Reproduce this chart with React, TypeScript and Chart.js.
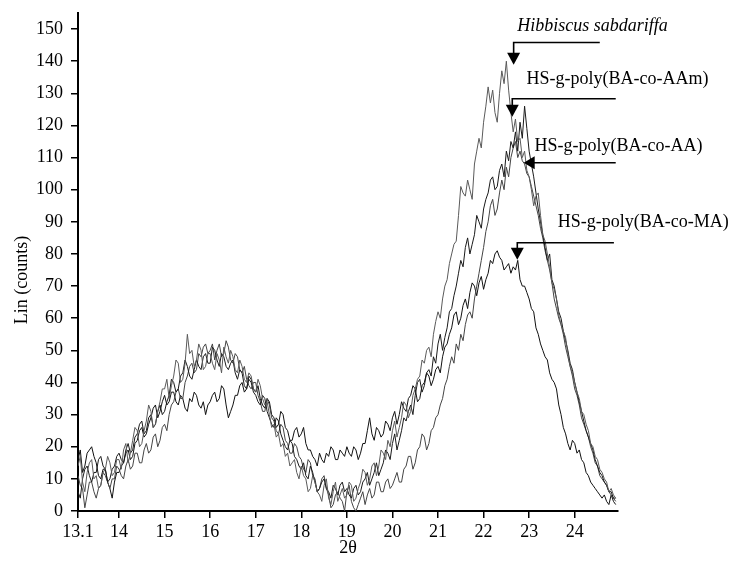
import React, { useEffect, useRef } from 'react';
import { Chart, registerables } from 'chart.js';

Chart.register(...registerables);

// scan positions (2θ) : start + index * step
const SCAN_START = 13.1;
const SCAN_STEP = 0.05;

const X_TICKS = [13.1, 14, 15, 16, 17, 18, 19, 20, 21, 22, 23, 24];
const Y_TICKS = [0, 10, 20, 30, 40, 50, 60, 70, 80, 90, 100, 110, 120, 130, 140, 150];

const SERIES_NAMES = ['Hibbiscus sabdariffa', 'HS-g-poly(BA-co-AAm)', 'HS-g-poly(BA-co-AA)', 'HS-g-poly(BA-co-MA)'];

// Lin (counts) for 2θ = 13.10 ... 24.90 (step 0.05)
const HS = [
  14, 17, 9, 6, 12, 15, 16, 10, 11, 7, 8, 12, 13, 17, 15, 11, 12, 16,
  16, 13, 19, 21, 15, 18, 22, 26, 25, 20, 21, 25, 28, 33, 31, 26, 27, 31, 34, 38,
  38, 41, 35, 39, 42, 47, 46, 40, 41, 46, 55, 49, 50, 45, 47, 52, 50, 44, 45, 49,
  49, 46, 44, 49, 47, 43, 51, 48, 46, 50, 48, 44, 43, 47, 45, 41, 40, 43, 42, 38,
  37, 41, 39, 35, 33, 34, 30, 26, 27, 23, 24, 20, 21, 17, 18, 14, 15, 16, 12, 10,
  14, 11, 10, 6, 7, 11, 9, 6, 5, 3, 8, 10, 4, 2, 6, 9, 3, 5, 7, 4,
  5, 9, 8, 3, 4, 7, 9, 13, 12, 8, 10, 14, 15, 11, 14, 19, 18, 16, 22, 20,
  25, 28, 23, 26, 29, 34, 33, 29, 31, 36, 38, 41, 42, 47, 46, 50, 51, 48, 55, 59,
  62, 60, 66, 70, 72, 77, 80, 83, 84, 92, 101, 99, 98, 103, 100, 97, 108, 112, 116, 113,
  121, 126, 132, 127, 131, 124, 121, 130, 137, 133, 140, 131, 124, 118, 122, 115, 116, 110, 112, 106,
  104, 100, 95, 98, 99, 92, 86, 84, 80, 76, 71, 69, 66, 61, 58, 56, 54, 49, 45, 43,
  40, 37, 35, 31, 30, 27, 25, 21, 20, 17, 16, 13, 12, 10, 9, 6, 7, 5, 4,
];

const AAM = [
  6, 4, 10, 13, 14, 11, 9, 12, 12, 16, 17, 14, 13, 9, 10, 13, 14, 17,
  18, 16, 15, 19, 21, 18, 19, 23, 24, 27, 28, 24, 25, 29, 30, 26, 27, 31, 33, 30,
  31, 34, 36, 41, 40, 37, 38, 42, 43, 47, 45, 42, 41, 44, 47, 45, 44, 48, 49, 46,
  46, 51, 50, 47, 45, 49, 48, 45, 44, 46, 47, 43, 41, 44, 43, 39, 38, 41, 40, 37,
  36, 34, 33, 36, 35, 31, 29, 27, 26, 29, 28, 24, 22, 20, 19, 22, 21, 17, 16, 14,
  13, 15, 11, 10, 14, 12, 9, 6, 7, 9, 10, 7, 6, 4, 8, 7, 5, 8, 9, 6,
  7, 5, 4, 7, 8, 5, 6, 9, 10, 12, 8, 10, 12, 15, 11, 13, 15, 19, 18, 16,
  21, 24, 19, 22, 25, 29, 28, 31, 33, 30, 36, 40, 41, 37, 39, 43, 44, 42, 48, 46,
  52, 55, 50, 54, 57, 62, 63, 67, 70, 74, 78, 76, 82, 85, 80, 83, 86, 92, 90, 88,
  94, 97, 99, 103, 104, 100, 101, 106, 108, 104, 112, 109, 115, 113, 118, 112, 121, 116, 126, 119,
  112, 108, 104, 99, 94, 90, 86, 82, 78, 80, 72, 70, 66, 62, 60, 56, 53, 50, 46, 44,
  40, 37, 34, 31, 28, 25, 23, 21, 19, 16, 14, 12, 11, 9, 8, 6, 6, 4, 4,
];

const AA = [
  11, 8, 7, 1, 5, 9, 9, 6, 4, 7, 8, 12, 11, 9, 7, 10, 10, 14,
  13, 11, 10, 14, 16, 13, 14, 18, 18, 15, 15, 19, 21, 18, 19, 23, 24, 20, 22, 26,
  27, 25, 30, 33, 34, 37, 38, 35, 35, 40, 42, 45, 46, 43, 44, 49, 48, 51, 52, 49,
  50, 52, 47, 50, 52, 48, 49, 53, 51, 47, 46, 49, 48, 44, 43, 45, 41, 39, 38, 40,
  40, 36, 34, 31, 31, 35, 33, 29, 28, 25, 24, 27, 26, 22, 21, 18, 18, 21, 20, 17,
  16, 13, 12, 16, 15, 11, 10, 6, 7, 10, 11, 7, 5, 1, 2, 5, 6, 4, 3, 0,
  6, 8, 3, 1, 0, 2, 4, 6, 2, 5, 7, 4, 5, 9, 9, 6, 6, 9, 10, 7,
  8, 10, 12, 9, 9, 13, 14, 17, 17, 13, 15, 19, 20, 24, 23, 19, 21, 25, 26, 29,
  30, 33, 35, 39, 41, 45, 48, 46, 52, 50, 55, 53, 58, 61, 62, 60, 66, 70, 74, 78,
  82, 87, 90, 95, 97, 92, 94, 99, 103, 100, 107, 104, 110, 113, 115, 110, 112, 109, 108, 105,
  104, 101, 98, 95, 92, 88, 85, 81, 78, 75, 71, 66, 63, 60, 58, 55, 51, 48, 45, 42,
  38, 36, 33, 29, 27, 25, 23, 20, 18, 15, 14, 11, 10, 9, 8, 6, 5, 4, 3,
];

const MA = [
  16, 19, 12, 14, 18, 19, 20, 17, 15, 11, 10, 13, 13, 9, 7, 4, 9, 12,
  12, 14, 15, 18, 19, 16, 17, 21, 22, 25, 26, 23, 24, 27, 29, 32, 33, 29, 31, 34,
  36, 33, 34, 37, 37, 34, 33, 36, 35, 32, 31, 35, 34, 37, 36, 33, 32, 34, 30, 33,
  34, 36, 37, 34, 35, 39, 38, 33, 29, 31, 33, 36, 36, 39, 40, 37, 38, 42, 41, 38,
  37, 39, 35, 33, 32, 35, 34, 30, 29, 26, 27, 31, 30, 26, 25, 22, 22, 25, 26, 23,
  24, 26, 21, 19, 19, 17, 16, 14, 18, 16, 15, 18, 17, 20, 19, 16, 16, 19, 18, 17,
  20, 18, 17, 20, 19, 16, 18, 21, 21, 25, 29, 24, 22, 26, 25, 23, 24, 28, 27, 25,
  29, 31, 27, 30, 34, 32, 31, 35, 36, 39, 38, 34, 35, 39, 40, 43, 42, 39, 41, 44,
  45, 43, 48, 51, 52, 55, 57, 61, 62, 58, 60, 64, 66, 63, 68, 71, 70, 67, 71, 73,
  69, 72, 74, 78, 77, 80, 81, 79, 78, 75, 76, 77, 74, 76, 75, 78, 72, 70, 70, 68,
  66, 63, 62, 57, 55, 52, 50, 48, 47, 43, 41, 40, 38, 33, 30, 26, 24, 21, 19, 22,
  21, 18, 19, 16, 15, 12, 11, 9, 8, 7, 6, 5, 4, 5, 3, 2, 5, 3, 2,
];

// annotation anchors in data units (2θ, counts)
const LABEL_X = [22.74, 22.94, 23.12, 23.63];
const LABEL_Y = [150.8, 134.3, 113.4, 90.0];
const ARROW_TIP_X = [22.66, 22.63, 22.88, 22.74];
const ARROW_TIP_Y = [138.9, 122.7, 108.4, 78.2];
const ARROW_LINE_Y = [145.8, 128.3, 108.4, 83.5];
const ARROW_END_X = [24.55, 24.9, 24.9, 24.86];
const ARROW_DIR = ['down', 'down', 'left', 'down'];

const SERIF = '"Liberation Serif", "Times New Roman", Times, serif';

const toPoints = (vals: number[]) =>
  vals.map((v, i) => ({ x: +(SCAN_START + i * SCAN_STEP).toFixed(2), y: v }));

const annotationPlugin = {
  id: 'xrdAnnotations',
  afterDatasetsDraw(chart: any) {
    const { ctx, chartArea } = chart;
    const xs = chart.scales.x;
    const ys = chart.scales.y;
    ctx.save();
    // y axis title
    ctx.fillStyle = '#000';
    ctx.font = `18px ${SERIF}`;
    ctx.textAlign = 'center';
    ctx.textBaseline = 'middle';
    ctx.translate(chartArea.left - 56, (chartArea.top + chartArea.bottom) / 2 + 18);
    ctx.rotate(-Math.PI / 2);
    ctx.fillText('Lin (counts)', 0, 0);
    ctx.restore();

    ctx.save();
    ctx.fillStyle = '#000';
    ctx.strokeStyle = '#000';
    ctx.lineWidth = 1.6;
    for (let i = 0; i < SERIES_NAMES.length; i++) {
      ctx.font = (i === 0 ? 'italic ' : '') + `18px ${SERIF}`;
      ctx.textAlign = 'left';
      ctx.textBaseline = 'middle';
      ctx.fillText(SERIES_NAMES[i], xs.getPixelForValue(LABEL_X[i]), ys.getPixelForValue(LABEL_Y[i]));

      const tx = xs.getPixelForValue(ARROW_TIP_X[i]);
      const ty = ys.getPixelForValue(ARROW_TIP_Y[i]);
      const ly = ys.getPixelForValue(ARROW_LINE_Y[i]);
      const ex = xs.getPixelForValue(ARROW_END_X[i]);
      ctx.beginPath();
      if (ARROW_DIR[i] === 'down') {
        ctx.moveTo(ex, ly);
        ctx.lineTo(tx, ly);
        ctx.lineTo(tx, ty - 10);
        ctx.stroke();
        ctx.beginPath();
        ctx.moveTo(tx - 6.5, ty - 12);
        ctx.lineTo(tx + 6.5, ty - 12);
        ctx.lineTo(tx, ty);
        ctx.closePath();
        ctx.fill();
      } else {
        ctx.moveTo(ex, ty);
        ctx.lineTo(tx + 9, ty);
        ctx.stroke();
        ctx.beginPath();
        ctx.moveTo(tx + 11, ty - 6.5);
        ctx.lineTo(tx + 11, ty + 6.5);
        ctx.lineTo(tx, ty);
        ctx.closePath();
        ctx.fill();
      }
    }
    ctx.restore();
  },
};

export default function App() {
  const canvasRef = useRef<HTMLCanvasElement | null>(null);

  useEffect(() => {
    if (!canvasRef.current) return;
    Chart.defaults.font.family = SERIF;
    Chart.defaults.font.size = 18;
    Chart.defaults.color = '#000';

    const seriesValues = [HS, AAM, AA, MA];
    const colors = ['#5a5a5a', '#1a1a1a', '#444444', '#111111'];

    const chart = new Chart(canvasRef.current, {
      type: 'line',
      data: {
        datasets: seriesValues.map((vals, k) => ({
          label: SERIES_NAMES[k],
          data: toPoints(vals),
          borderColor: colors[k],
          borderWidth: 1,
          pointRadius: 0,
          tension: 0,
          fill: false,
        })),
      },
      options: {
        animation: false,
        responsive: false,
        maintainAspectRatio: false,
        layout: { padding: { left: 0, right: 114, top: 13, bottom: 0 } },
        plugins: {
          legend: { display: false },
          tooltip: { enabled: false },
        },
        scales: {
          x: {
            type: 'linear',
            min: 13.1,
            max: 24.95,
            afterBuildTicks: (scale: any) => {
              scale.ticks = X_TICKS.map((v) => ({ value: v }));
            },
            afterFit: (scale: any) => {
              scale.height = 64;
              scale.paddingLeft = 0;
              scale.paddingRight = 0;
            },
            ticks: {
              autoSkip: false,
              maxRotation: 0,
              padding: 3,
              font: { size: 18, family: SERIF },
              color: '#000',
              callback: (v: any) => String(v),
            },
            grid: {
              display: true,
              drawOnChartArea: false,
              drawTicks: true,
              tickLength: 7,
              color: '#000',
              lineWidth: 1.5,
            },
            border: { display: true, color: '#000', width: 2 },
            title: {
              display: true,
              text: '2θ',
              color: '#000',
              font: { size: 18, family: SERIF },
              padding: { top: 0, bottom: 16 },
            },
          },
          y: {
            type: 'linear',
            min: 0,
            max: 155,
            afterBuildTicks: (scale: any) => {
              scale.ticks = Y_TICKS.map((v) => ({ value: v }));
            },
            afterFit: (scale: any) => {
              scale.width = 78;
              scale.paddingTop = 0;
              scale.paddingBottom = 0;
            },
            ticks: {
              autoSkip: false,
              padding: 8,
              font: { size: 18, family: SERIF },
              color: '#000',
            },
            grid: {
              display: true,
              drawOnChartArea: false,
              drawTicks: true,
              tickLength: 7,
              color: '#000',
              lineWidth: 1.5,
            },
            border: { display: true, color: '#000', width: 2 },
          },
        },
      },
      plugins: [annotationPlugin],
    });
    return () => chart.destroy();
  }, []);

  return (
    <div style={{ position: 'fixed', left: 0, top: 0, width: 732, height: 575, background: '#fff' }}>
      <canvas ref={canvasRef} width={732} height={575} style={{ display: 'block' }} />
    </div>
  );
}
